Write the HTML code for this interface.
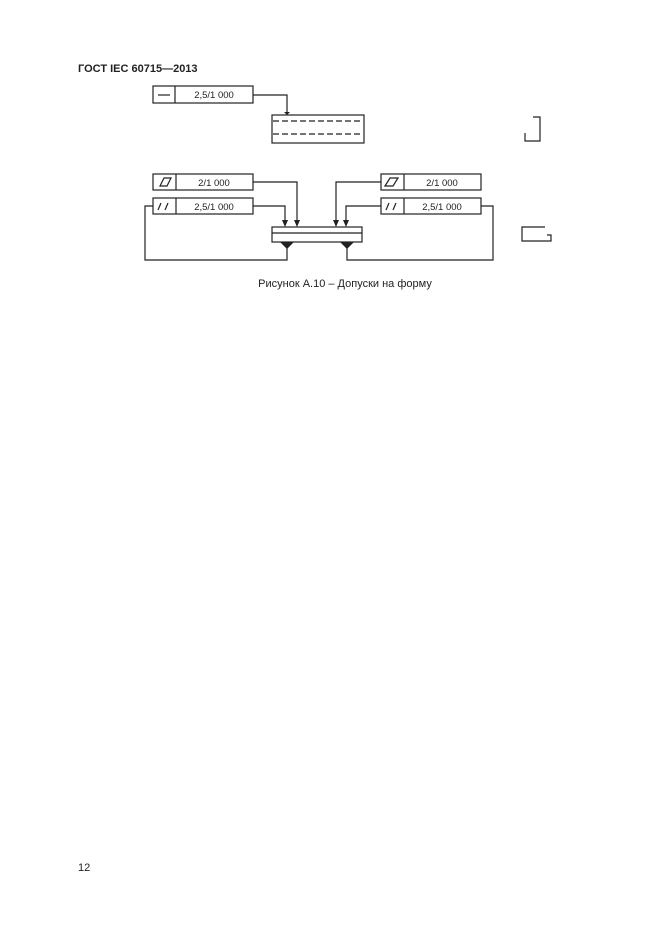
<!DOCTYPE html>
<html><head><meta charset="utf-8"><style>
body{margin:0;background:#fff;}
svg{display:block}
text{font-family:"Liberation Sans",sans-serif;fill:#222}
</style></head><body>
<svg width="661" height="936" viewBox="0 0 661 936" xmlns="http://www.w3.org/2000/svg">
<text x="78" y="72" font-size="11" font-weight="bold">ГОСТ IEC 60715—2013</text>
<g fill="none" stroke="#222" stroke-width="1.2">
<rect x="153" y="86" width="100" height="17"/><line x1="175" y1="86" x2="175" y2="103"/>
<line x1="158" y1="95" x2="170" y2="95"/>
<polyline points="253,95 287,95 287,112"/>
<rect x="272" y="115" width="92" height="28"/>
<line x1="273" y1="121" x2="363" y2="121" stroke-dasharray="6,3"/>
<line x1="273" y1="134" x2="363" y2="134" stroke-dasharray="6,3"/>
<polyline points="533,117 540,117 540,141 525,141 525,133"/>
<rect x="153" y="174" width="100" height="16"/><line x1="176" y1="174" x2="176" y2="190"/>
<polygon points="160,186 164,178 171,178 167,186"/>
<rect x="153" y="198" width="100" height="16"/><line x1="176" y1="198" x2="176" y2="214"/>
<line x1="158" y1="210" x2="161" y2="203"/><line x1="165" y1="210" x2="168" y2="203"/>
<polyline points="253,182 297,182 297,222"/>
<polyline points="253,206 285,206 285,222"/>
<polyline points="153,206 145,206 145,260 287,260 287,248"/>
<rect x="381" y="174" width="100" height="16"/><line x1="404" y1="174" x2="404" y2="190"/>
<polygon points="385,186 390,178 398,178 393,186"/>
<rect x="381" y="198" width="100" height="16"/><line x1="404" y1="198" x2="404" y2="214"/>
<line x1="386" y1="210" x2="389" y2="203"/><line x1="393" y1="210" x2="396" y2="203"/>
<polyline points="381,182 336,182 336,222"/>
<polyline points="381,206 346,206 346,222"/>
<polyline points="481,206 493,206 493,260 347,260 347,248"/>
<rect x="272" y="227" width="90" height="15"/><line x1="272" y1="233" x2="362" y2="233"/>
<polyline points="545,227 522,227 522,241 551,241 551,235 547,235"/>
</g>
<g fill="#222">
<polygon points="284,112 290,112 287,115"/>
<polygon points="294,220 300,220 297,227"/>
<polygon points="282,220 288,220 285,227"/>
<polygon points="333,220 339,220 336,227"/>
<polygon points="343,220 349,220 346,227"/>
<polygon points="280,242 294,242 287,249"/>
<polygon points="340,242 354,242 347,249"/>
</g>
<g font-size="9.5" text-anchor="middle">
<text x="214" y="98">2,5/1 000</text>
<text x="214" y="186">2/1 000</text>
<text x="214" y="210">2,5/1 000</text>
<text x="442" y="186">2/1 000</text>
<text x="442" y="210">2,5/1 000</text>
</g>
<text x="345" y="287" font-size="11" text-anchor="middle">Рисунок А.10 – Допуски на форму</text>
<text x="78" y="871" font-size="11">12</text>
</svg>
</body></html>
